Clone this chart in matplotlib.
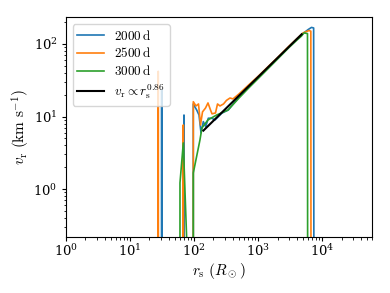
import matplotlib
matplotlib.use('Agg')
import matplotlib.pyplot as plt

plt.rcParams['mathtext.fontset'] = 'cm'
plt.rcParams['font.family'] = 'serif'
plt.rcParams['font.serif'] = ['DejaVu Serif']

F = 1e-3  # values that fall to zero (below the plotted range)

labels = [r'$2000\,\mathrm{d}$', r'$2500\,\mathrm{d}$', r'$3000\,\mathrm{d}$']
fit_label = r'$v_\mathrm{r} \propto r_\mathrm{s}^{0.86}$'

r_2000 = [30.9, 31.1, 31.3, 69.0, 69.3, 69.6, 96.8, 96.8, 109.4, 118.9, 127.7, 138.7,
          151.1, 165.9, 187.5, 211, 237.7, 268.4, 302, 340.4, 407, 500, 700, 1000,
          1500, 2000, 3000, 4000, 5000, 6000, 6760, 7300, 7400]
v_2000 = [F, 23.2, F, F, 10.5, F, F, 14.9, 12.3, 10.5, 5.94, 8.51,
          7.26, 9.48, 9.48, 8.98, 9.97, 11.1, 11.7, 12.3, 15.0, 18.5, 25, 35,
          50, 64, 91, 117, 140, 158, 169, 166, F]

r_2500 = [27.3, 27.5, 27.7, 67.3, 67.6, 67.9, 96.8, 96.8, 106.7, 116.7, 125.4, 134.8,
          150.1, 164.1, 179.6, 189.6, 214.8, 231, 252.6, 286.4, 318.8, 361.6, 402.6,
          500, 700, 1000, 1500, 2000, 3000, 4000, 5000, 6180, 6600, 6650]
v_2500 = [F, 42, F, F, 7.66, F, F, 16.0, 14.0, 14.9, 7.66, 11.6,
          13.1, 15.4, 12.3, 10.9, 11.2, 14.9, 14.0, 14.9, 16.7, 18.0, 17.5,
          20.5, 27, 36, 51, 65, 93, 118, 142, 153, 150, F]

r_3000 = [60.0, 60.0, 67.6, 76.4, 76.4, 96.8, 96.8, 123, 132, 164, 224, 337, 500, 700,
          1000, 1500, 2000, 3000, 4000, 4700, 5160, 5850, 5900]
v_3000 = [F, 1.22, 4.33, 0.2, F, F, 1.67, 4.76, 6.97, 8.98, 10.5, 12.3, 18, 24.5,
          33.5, 48, 62, 89, 113, 128, 142, 139, F]

r_fit = [139, 4750]
v_fit = [6.4, 136]

fig = plt.figure(figsize=(3.9, 2.93), dpi=100)
ax = fig.add_axes([0.1692, 0.1901, 0.7854, 0.7509])

ax.plot(r_2000, v_2000, color='#1f77b4', lw=1.2, label=labels[0])
ax.plot(r_2500, v_2500, color='#ff7f0e', lw=1.2, label=labels[1])
ax.plot(r_3000, v_3000, color='#2ca02c', lw=1.2, label=labels[2])
ax.plot(r_fit, v_fit, color='black', lw=1.5, label=fit_label)

ax.set_xscale('log')
ax.set_yscale('log')
ax.set_xlim(1, 6e4)
ax.set_ylim(0.217, 233)

ax.set_xlabel(r'$r_\mathrm{s}\ (R_\odot)$', fontsize=11, labelpad=1)
ax.set_ylabel(r'$v_\mathrm{r}\ (\mathrm{km\ s^{-1}})$', fontsize=11, labelpad=1)
ax.tick_params(labelsize=9.5, length=3)
ax.tick_params(axis='x', pad=1.5)
ax.tick_params(axis='y', pad=3)
ax.tick_params(which='minor', length=1.8)

ax.legend(loc='upper left', fontsize=9.5, labelspacing=0.3, borderpad=0.35,
          handlelength=2.0, handletextpad=0.8)

fig.savefig('out.png', dpi=100)
